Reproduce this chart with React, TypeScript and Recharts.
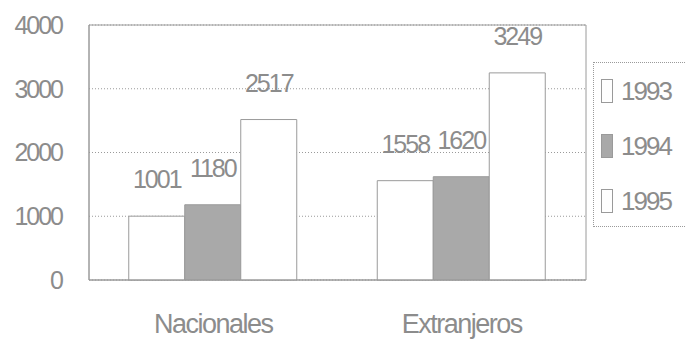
import { BarChart, Bar, XAxis, YAxis, CartesianGrid, Legend, LabelList, ReferenceArea } from 'recharts';

const categories = ['Nacionales', 'Extranjeros'];
const years = ['1993', '1994', '1995'];
const values1993 = [1001, 1558];
const values1994 = [1180, 1620];
const values1995 = [2517, 3249];
const yTicks = [0, 1000, 2000, 3000, 4000];

const data = categories.map((name, i) => ({
  name,
  '1993': values1993[i],
  '1994': values1994[i],
  '1995': values1995[i],
}));

const fills: Record<string, string> = { '1993': '#ffffff', '1994': '#a9a9a9', '1995': '#ffffff' };
const font = "'Liberation Sans Narrow', 'Liberation Sans', Arial, sans-serif";
const textColor = '#8c8c8c';
const lineColor = '#9a9a9a';

const LegendBox = ({ payload }: any) => (
  <div
    style={{
      borderTop: `1px dotted ${lineColor}`,
      borderBottom: `1px dotted ${lineColor}`,
      borderLeft: `1px dotted ${lineColor}`,
      height: 165,
      boxSizing: 'border-box',
      paddingTop: 0,
      fontFamily: font,
    }}
  >
    {(payload || []).map((p: any) => (
      <div key={p.value} style={{ display: 'flex', alignItems: 'center', height: 54, marginTop: 1 }}>
        <span
          style={{
            display: 'inline-block',
            width: 10,
            height: 22,
            marginLeft: 7,
            marginRight: 8,
            border: `1px solid ${lineColor}`,
            background: fills[p.value],
          }}
        />
        <span style={{ fontSize: 26, color: textColor, letterSpacing: -2 }}>{p.value}</span>
      </div>
    ))}
  </div>
);

export default function App() {
  return (
    <div style={{ position: 'absolute', left: 0, top: 0 }}>
      <BarChart
        width={685}
        height={341}
        data={data}
        margin={{ top: 25, right: 99, left: 0, bottom: 0 }}
        barCategoryGap="16%"
        barGap={0}
      >
        <CartesianGrid vertical={false} stroke={lineColor} strokeDasharray="1 2" />
        <ReferenceArea y1={0} y2={4000} fill="none" stroke={lineColor} strokeWidth={1} ifOverflow="extendDomain" />
        <XAxis
          dataKey="name"
          height={61}
          tickLine={false}
          axisLine={{ stroke: lineColor }}
          tickMargin={28}
          tick={{ fill: textColor, fontSize: 27, fontFamily: font, letterSpacing: -1.5 }}
        />
        <YAxis
          width={89}
          domain={[0, 4000]}
          ticks={yTicks}
          tickLine={false}
          axisLine={{ stroke: lineColor }}
          tickMargin={21}
          tick={{ fill: textColor, fontSize: 25, fontFamily: font, letterSpacing: -2 }}
        />
        <Legend
          layout="vertical"
          verticalAlign="middle"
          align="center"
          content={<LegendBox />}
          wrapperStyle={{ left: 593, top: 62, width: 100 }}
        />
        {years.map((y) => (
          <Bar key={y} dataKey={y} fill={fills[y]} stroke={lineColor} strokeWidth={1} isAnimationActive={false}>
            <LabelList
              dataKey={y}
              position="top"
              offset={28}
              style={{ fill: textColor, fontSize: 25, fontFamily: font, letterSpacing: -2 }}
            />
          </Bar>
        ))}
      </BarChart>
    </div>
  );
}
